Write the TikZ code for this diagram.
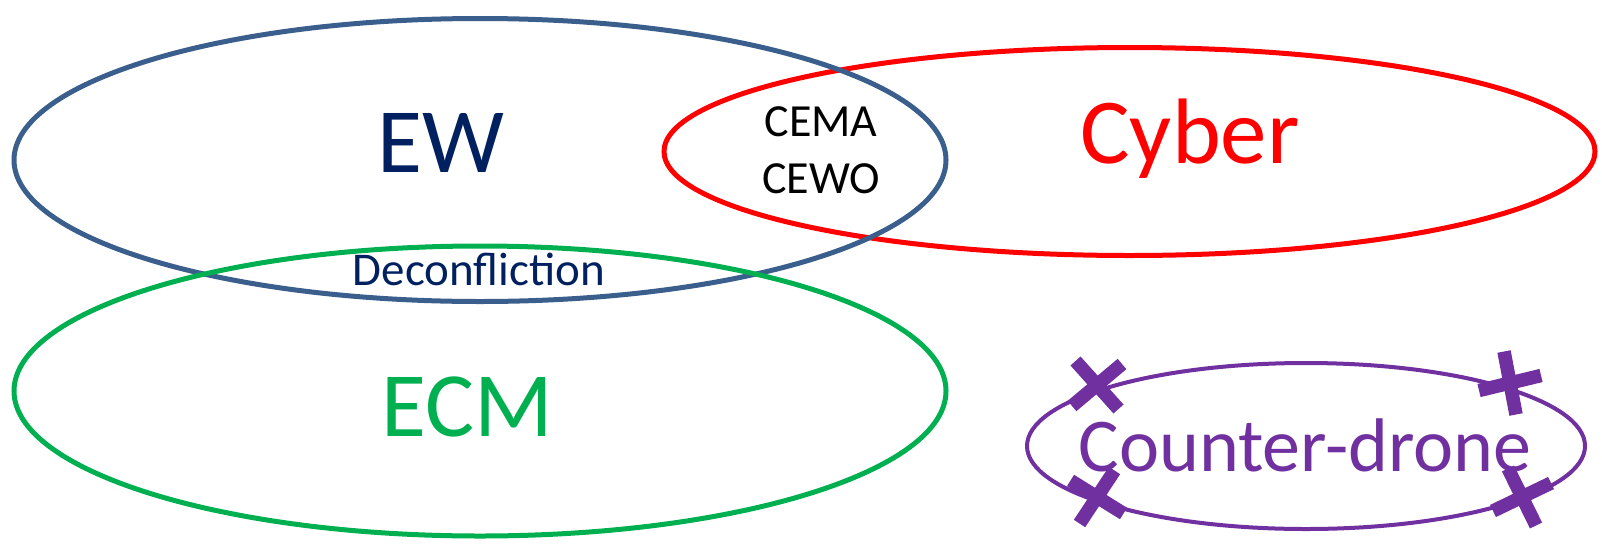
\documentclass[tikz,border=0pt]{standalone}
\usepackage{fontspec}
\setmainfont{Carlito}
\usetikzlibrary{calc}
\definecolor{ewblue}{HTML}{3A5F8D}
\definecolor{navy}{HTML}{002060}
\definecolor{cybred}{HTML}{FF0000}
\definecolor{ecmgreen}{HTML}{00B050}
\definecolor{cdpurple}{HTML}{7030A0}
\tikzset{
  ring/.style={line width=5pt},
  xmark/.style={cdpurple, line width=13.5pt, line cap=butt},
  lbl/.style={anchor=base, inner sep=0pt},
}
\newcommand{\fsz}[1]{\fontsize{#1}{#1}\selectfont}
\begin{document}
\begin{tikzpicture}[x=1pt,y=-1pt]
\useasboundingbox (0,0) rectangle (1602,544);
% ellipses
\draw[ring, cybred] (1129.5,151.5) ellipse [x radius=465.5, y radius=104];
\draw[ring, ewblue] (480,160) ellipse [x radius=466, y radius=141.5];
\draw[ring, ecmgreen] (480,391) ellipse [x radius=466, y radius=145];
\draw[line width=4pt, cdpurple] (1306,446) ellipse [x radius=279, y radius=83];
% crosses
\coordinate (c1) at (1097,385);
\coordinate (c2) at (1097,497);
\coordinate (c3) at (1510,383);
\coordinate (c4) at (1522,497);
\draw[xmark] ($(c1)+(-21.5,-24)$) -- ($(c1)+(21.5,24)$);
\draw[xmark] ($(c1)+(25,-21)$) -- ($(c1)+(-25,21)$);
\draw[xmark] ($(c2)+(17.5,-26.5)$) -- ($(c2)+(-17.5,26.5)$);
\draw[xmark] ($(c2)+(-26.5,-16.5)$) -- ($(c2)+(26.5,16.5)$);
\draw[xmark] ($(c3)+(-6,-31.5)$) -- ($(c3)+(6,31.5)$);
\draw[xmark] ($(c3)+(-31,7.5)$) -- ($(c3)+(31,-7.5)$);
\draw[xmark] ($(c4)+(-14,-28.5)$) -- ($(c4)+(14,28.5)$);
\draw[xmark] ($(c4)+(-29,14)$) -- ($(c4)+(29,-14)$);
% labels
\node[lbl, text=navy] (ew) at (441,172) {\fsz{92}EW};
\node[lbl, text=cybred] (cyber) at (1190,163) {\fsz{93}Cyber};
\node[lbl, text=ecmgreen] (ecm) at (467,436) {\fsz{92}ECM};
\node[lbl, text=black] (cema) at (821,136) {\fsz{46}CEMA};
\node[lbl, text=black] (cewo) at (821,193) {\fsz{46}CEWO};
\node[lbl, text=navy] (decon) at (479,285) {\fsz{47}Deconfliction};
\node[lbl, text=cdpurple] (cd) at (1305,471) {\fsz{76}Counter-drone};
\end{tikzpicture}
\end{document}
